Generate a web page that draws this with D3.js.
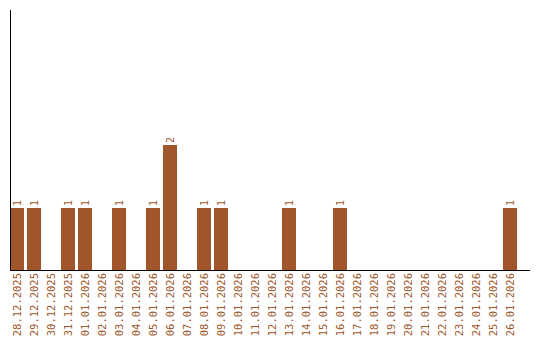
<!DOCTYPE html>
<html>
<head>
<meta charset="utf-8">
<script src="https://cdn.jsdelivr.net/npm/d3@7"></script>
<style>
  body { margin: 0; background: #fff; }
  svg { display: block; }
  text { font-family: "DejaVu Sans Mono", monospace; }
</style>
</head>
<body>
<svg id="chart" width="540" height="340"></svg>
<script>
var dates = ["28.12.2025", "29.12.2025", "30.12.2025", "31.12.2025", "01.01.2026",
  "02.01.2026", "03.01.2026", "04.01.2026", "05.01.2026", "06.01.2026",
  "07.01.2026", "08.01.2026", "09.01.2026", "10.01.2026", "11.01.2026",
  "12.01.2026", "13.01.2026", "14.01.2026", "15.01.2026", "16.01.2026",
  "17.01.2026", "18.01.2026", "19.01.2026", "20.01.2026", "21.01.2026",
  "22.01.2026", "23.01.2026", "24.01.2026", "25.01.2026", "26.01.2026"];
var counts = [1, 1, 0, 1, 1, 0, 1, 0, 1, 2, 0, 1, 1, 0, 0, 0, 1, 0, 0, 1,
  0, 0, 0, 0, 0, 0, 0, 0, 0, 1];
var yMax = 4.16;

var svg = d3.select("#chart"),
  margin = {top: 10, left: 10, bottom: 70},
  plotRight = 517,
  axisRight = 530,
  height = 340,
  barColor = "#a0572b",
  base = height - margin.bottom;

var x = d3.scaleBand()
  .domain(dates)
  .range([margin.left, plotRight])
  .paddingInner(3 / 17)
  .paddingOuter(0)
  .align(0);

var y = d3.scaleLinear()
  .domain([0, yMax])
  .range([base, margin.top]);

var data = dates.map(function(d, i) { return {date: d, value: counts[i]}; });

svg.append("g")
  .selectAll("rect")
  .data(data.filter(function(d) { return d.value > 0; }))
  .enter()
  .append("rect")
  .attr("x", function(d) { return Math.round(x(d.date)); })
  .attr("y", function(d) { return Math.round(y(d.value)); })
  .attr("width", Math.round(x.bandwidth()))
  .attr("height", function(d) { return base - Math.round(y(d.value)); })
  .attr("fill", "#a0562a");

// value labels
svg.append("g")
  .selectAll("text")
  .data(data.filter(function(d) { return d.value > 0; }))
  .enter()
  .append("text")
  .attr("transform", function(d) {
    return "translate(" + (Math.round(x(d.date)) + x.bandwidth() / 2 + 3.5) + "," + (Math.round(y(d.value)) - 2) + ") rotate(-90)";
  })
  .attr("font-size", 10)
  .attr("fill", barColor)
  .text(function(d) { return d.value; });

// axes
svg.append("line")
  .attr("x1", margin.left + 0.5).attr("x2", margin.left + 0.5)
  .attr("y1", margin.top).attr("y2", base)
  .attr("stroke", "#000");
svg.append("line")
  .attr("x1", margin.left).attr("x2", axisRight)
  .attr("y1", base + 0.5).attr("y2", base + 0.5)
  .attr("stroke", "#000");

// date labels
svg.append("g")
  .selectAll("text")
  .data(dates)
  .enter()
  .append("text")
  .attr("transform", function(d) {
    return "translate(" + (Math.round(x(d)) + x.bandwidth() / 2 + 3.5) + "," + (base + 3) + ") rotate(-90)";
  })
  .attr("text-anchor", "end")
  .attr("font-size", 10.5)
  .attr("fill", barColor)
  .text(function(d) { return d; });
</script>
</body>
</html>
